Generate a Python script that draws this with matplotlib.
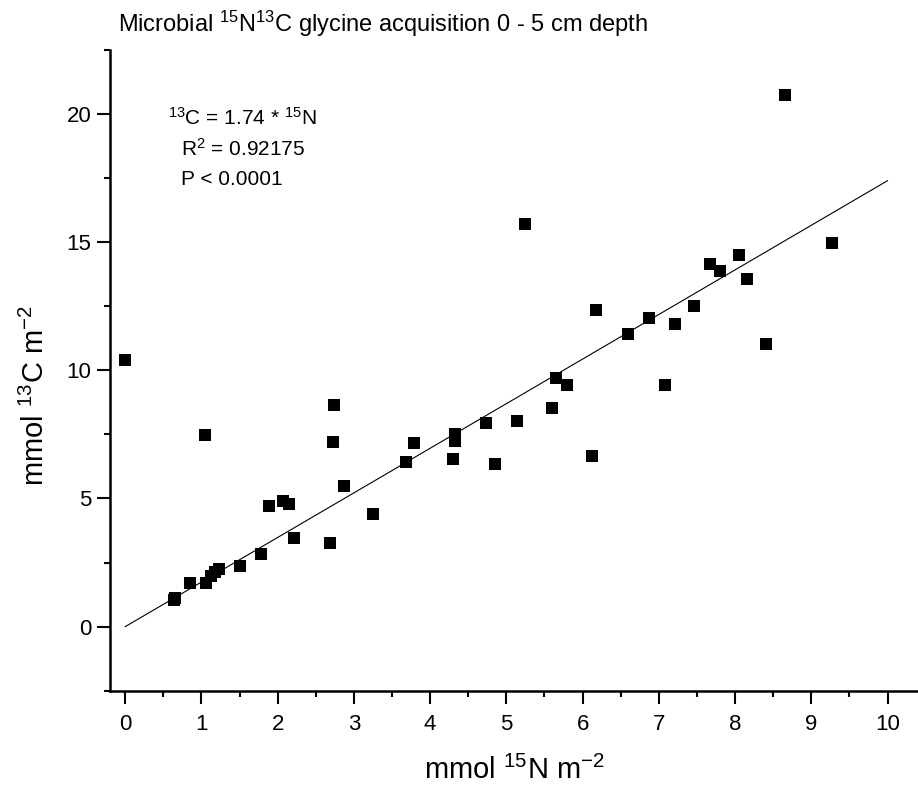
import matplotlib
matplotlib.use("Agg")
import matplotlib.pyplot as plt

# ---- data ----
n15 = [0.0, 0.64, 0.65, 0.845, 1.055, 1.05, 1.13, 1.18, 1.23, 1.51, 1.78,
       1.89, 2.07, 2.15, 2.22, 2.68, 2.74, 2.73, 2.87, 3.245, 3.68, 3.79,
       4.30, 4.33, 4.33, 4.73, 4.855, 5.14, 5.25, 5.60, 5.65, 5.80, 6.12,
       6.18, 6.60, 6.87, 7.085, 7.21, 7.46, 7.67, 7.80, 8.05, 8.16, 8.41,
       8.65, 9.27]
c13 = [10.42, 1.02, 1.12, 1.71, 1.72, 7.47, 1.98, 2.12, 2.25, 2.35, 2.85,
       4.70, 4.92, 4.79, 3.44, 3.28, 8.65, 7.21, 5.49, 4.39, 6.43, 7.18,
       6.56, 7.53, 7.24, 7.94, 6.33, 8.03, 15.70, 8.52, 9.71, 9.41, 6.67,
       12.37, 11.40, 12.04, 9.41, 11.82, 12.50, 14.15, 13.88, 14.49, 13.55,
       11.03, 20.75, 14.96]
slope = 1.74
fit_x = [0, 10]
r_squared = "0.92175"
p_value = "0.0001"
x_ticks = [0, 1, 2, 3, 4, 5, 6, 7, 8, 9, 10]
y_ticks = [0, 5, 10, 15, 20]
x_minor = [0.5, 1.5, 2.5, 3.5, 4.5, 5.5, 6.5, 7.5, 8.5, 9.5]
y_minor = [-2.5, 2.5, 7.5, 12.5, 17.5, 22.5]

fam = "Liberation Sans"
plt.rcParams['font.family'] = [fam, 'DejaVu Sans']
plt.rcParams['mathtext.fontset'] = 'custom'
plt.rcParams['mathtext.rm'] = fam
plt.rcParams['mathtext.it'] = fam
plt.rcParams['mathtext.default'] = 'regular'

W, H = 918, 798
fig = plt.figure(figsize=(W / 100, H / 100), dpi=100)
ax = fig.add_axes([110 / W, 1 - 690.7 / H, (918 - 110) / W, (690.7 - 50) / H])

ax.plot(n15, c13, 's', color='black', markersize=8.8, markeredgewidth=0)
ax.plot(fit_x, [slope * v for v in fit_x], color='black', linewidth=0.8)

ax.set_xticks(x_ticks)
ax.set_yticks(y_ticks)
ax.set_xticks(x_minor, minor=True)
ax.set_yticks(y_minor, minor=True)
ax.set_xlim(-0.2, 10.4)
ax.set_ylim(-2.5, 22.5)

for s in ['top', 'right']:
    ax.spines[s].set_visible(False)
for s in ['left', 'bottom']:
    ax.spines[s].set_linewidth(1.8)

ax.tick_params(which='major', direction='out', length=9.5, width=1.5,
               labelsize=16)
ax.tick_params(which='minor', direction='out', length=4.5, width=1.5)
ax.tick_params(axis='x', which='major', pad=7)
ax.tick_params(axis='y', which='major', pad=4)

ax.set_xlabel('mmol $^{15}$N m$^{-2}$', fontsize=21)
ax.xaxis.set_label_coords(0.5, (690.7 - 770) / 640.7)
ax.xaxis.label.set_verticalalignment('center')
ax.set_ylabel('mmol $^{13}$C m$^{-2}$', fontsize=21)
ax.yaxis.set_label_coords((35 - 110) / 808, (690.7 - 396) / 640.7)
ax.yaxis.label.set_verticalalignment('center')

fig.text(118 / W, 1 - 31.5 / H,
         'Microbial $^{15}$N$^{13}$C glycine acquisition 0 - 5 cm depth',
         fontsize=17, ha='left', va='baseline')

ax.text(0.0718, 0.883, '$^{13}$C = %s * $^{15}$N' % slope, transform=ax.transAxes,
        fontsize=15, va='baseline', ha='left')
ax.text(0.0879, 0.8346, 'R$^{2}$ = %s' % r_squared, transform=ax.transAxes,
        fontsize=15, va='baseline', ha='left')
ax.text(0.0879, 0.7893, 'P < %s' % p_value, transform=ax.transAxes,
        fontsize=15, va='baseline', ha='left')

fig.savefig('out.png', dpi=100)
